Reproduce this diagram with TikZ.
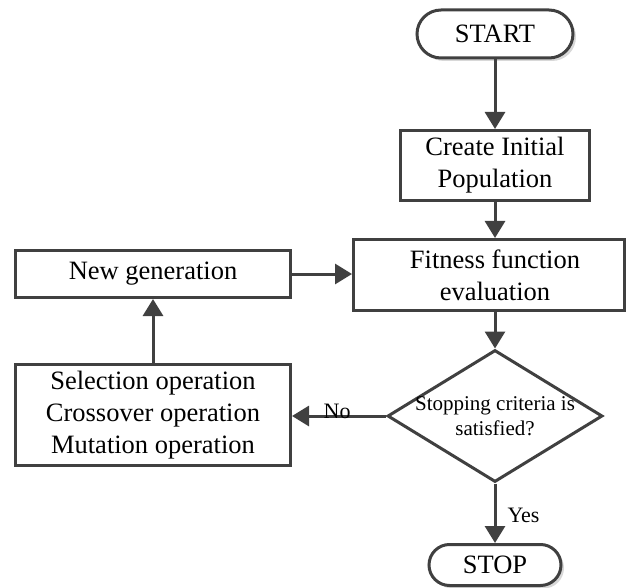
\documentclass[tikz,border=0pt]{standalone}
\usepackage{fontspec}
\setmainfont{Liberation Serif}
\usetikzlibrary{arrows.meta,shapes.geometric,shapes.misc,shadows}
\definecolor{edge}{HTML}{404040}
\begin{document}
\begin{tikzpicture}[x=1pt,y=-1pt,
  box/.style={draw=edge,line width=3pt,fill=white,rectangle,inner sep=0pt,align=center,
    font=\fontsize{26.5}{32}\selectfont},
  pill/.style={box,rounded rectangle,
    drop shadow={shadow xshift=3pt,shadow yshift=-3pt,fill=gray!60,opacity=0.5}},
  decide/.style={draw=edge,line width=3pt,fill=white,diamond,inner sep=0pt},
  flow/.style={draw=edge,line width=3pt,-{Triangle[length=17pt,width=20pt]}},
  tag/.style={font=\fontsize{22}{24}\selectfont,inner sep=1pt}]
\useasboundingbox (0,0) rectangle (629,588);

% terminals
\node[pill,minimum width=156pt,minimum height=48pt] (start) at (495,34) {START};
\node[pill,minimum width=132pt,minimum height=41pt] (stop) at (495,565) {STOP};

% process boxes
\node[box,minimum width=189pt,minimum height=70pt] (create) at (495,165.5) {Create Initial\\Population};
\node[box,minimum width=271pt,minimum height=71pt] (fitness) at (489,275) {\hspace*{12pt}Fitness function\\\hspace*{12pt}evaluation};
\node[box,minimum width=275pt,minimum height=47pt] (newgen) at (153,274) {New generation};
\node[box,minimum width=275pt,minimum height=101pt] (ops) at (153,415) {Selection operation\\Crossover operation\\Mutation operation};

% decision
\node[decide,minimum width=215pt,minimum height=132pt,
  label={[align=center,font=\fontsize{21}{25}\selectfont]center:Stopping criteria is\\satisfied?}] (check) at (495,416) {};

% connectors
\draw[flow] (start) -- (create);
\draw[flow] (create.south) -- (create.south |- fitness.north);
\draw[flow] (check.north |- fitness.south) -- (check.north);
\draw[flow] (check.south) -- node[tag,right,xshift=10pt,yshift=-2pt] {Yes} (stop.north);
\draw[flow] (check.west) -- node[tag,above,pos=0.52,yshift=-5pt] {No} (check.west -| ops.east);
\draw[flow] (ops.north) -- (newgen.south);
\draw[flow] (newgen.east) -- (newgen.east -| fitness.west);
\end{tikzpicture}
\end{document}
